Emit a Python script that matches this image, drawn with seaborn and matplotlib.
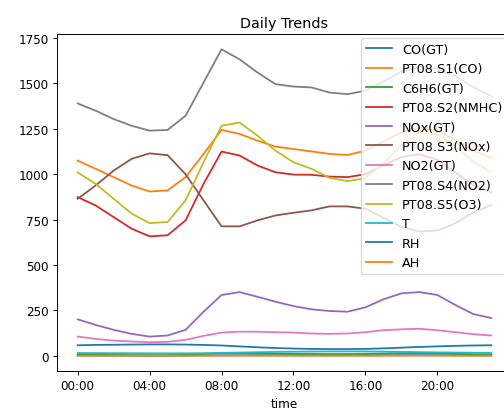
import numpy as np
import pandas as pd
import seaborn as sns
import matplotlib
matplotlib.use("Agg")
import matplotlib.pyplot as plt

#時間（0〜23時）
hours = list(range(24))

#各センサーの時間帯別平均値
co_gt = [1.7, 1.4, 1.1, 0.9, 0.8, 0.8, 1.1, 2.0, 3.0, 3.0, 2.6, 2.4,
         2.3, 2.2, 2.1, 2.1, 2.3, 2.8, 3.3, 3.5, 3.2, 2.6, 2.0, 1.8]
pt08_s1 = [1075, 1030, 984, 938, 905, 911, 984, 1112, 1244, 1222, 1185, 1152,
           1139, 1126, 1112, 1106, 1130, 1180, 1230, 1255, 1240, 1190, 1130, 1090]
c6h6 = [7.6, 5.9, 4.6, 3.6, 3.1, 3.3, 5.3, 10.5, 14.8, 14.3, 12.5, 11.2,
        10.6, 10.3, 9.8, 9.6, 10.4, 12.3, 14.3, 15.0, 13.6, 10.7, 8.6, 7.8]
pt08_s2 = [874, 828, 764, 700, 658, 664, 746, 947, 1125, 1103, 1048, 1011,
           998, 997, 987, 984, 1000, 1050, 1095, 1110, 1080, 1010, 940, 900]
nox = [201, 170, 143, 121, 106, 112, 143, 243, 335, 351, 325, 298,
       274, 256, 247, 243, 267, 311, 344, 351, 335, 280, 230, 208]
pt08_s3 = [865, 938, 1020, 1085, 1115, 1105, 1000, 856, 713, 713, 746, 773,
           788, 801, 823, 823, 810, 760, 710, 685, 690, 730, 790, 830]
no2 = [106, 93, 84, 79, 75, 77, 88, 110, 128, 133, 133, 130,
       128, 123, 121, 123, 130, 141, 146, 149, 141, 130, 119, 112]
pt08_s4 = [1390, 1350, 1304, 1267, 1240, 1244, 1322, 1505, 1688, 1633, 1560, 1496,
           1483, 1478, 1450, 1441, 1460, 1510, 1565, 1590, 1580, 1540, 1480, 1430]
pt08_s5 = [1010, 947, 865, 783, 731, 737, 856, 1066, 1267, 1285, 1212, 1130,
           1066, 1030, 980, 962, 978, 1060, 1160, 1230, 1220, 1150, 1070, 1010]
temp = [15.5, 15.0, 14.6, 14.2, 13.9, 13.7, 13.8, 14.6, 16.2, 18.0, 19.8, 21.3,
        22.6, 23.5, 24.1, 24.3, 24.0, 23.2, 21.8, 20.3, 19.0, 18.0, 17.1, 16.3]
rh = [58, 60, 61, 62, 63, 63, 62, 60, 57, 52, 47, 43,
      40, 38, 37, 37, 38, 41, 45, 49, 52, 55, 57, 58]
ah = [1.00, 0.99, 0.98, 0.97, 0.96, 0.96, 0.96, 0.99, 1.02, 1.04, 1.05, 1.05,
      1.05, 1.04, 1.04, 1.03, 1.03, 1.03, 1.03, 1.03, 1.02, 1.02, 1.01, 1.01]

names = ['CO(GT)', 'PT08.S1(CO)', 'C6H6(GT)', 'PT08.S2(NMHC)', 'NOx(GT)',
         'PT08.S3(NOx)', 'NO2(GT)', 'PT08.S4(NO2)', 'PT08.S5(O3)', 'T', 'RH', 'AH']
series = [co_gt, pt08_s1, c6h6, pt08_s2, nox, pt08_s3, no2, pt08_s4, pt08_s5, temp, rh, ah]

#ロング形式に変換
df = pd.DataFrame({n: s for n, s in zip(names, series)})
df['time'] = hours
long_df = df.melt(id_vars='time', var_name='sensor', value_name='value')

#tab10を繰り返して12色にする
pal = sns.color_palette('tab10', 10) + sns.color_palette('tab10', 2)

#グラフ化
fig = plt.figure(figsize=(504 / 86, 410 / 86), dpi=86)
ax = fig.add_axes([57 / 504, 1 - 372 / 410, 455 / 504, 337 / 410])
sns.lineplot(data=long_df, x='time', y='value', hue='sensor', palette=pal, ax=ax)
ax.set_xticks(range(0, 24, 4))
ax.set_xticklabels(['{:02d}:00'.format(h) for h in range(0, 24, 4)])
ax.set_yticks(range(0, 1751, 250))
ax.set_ylabel('')
ax.set_xlabel('time')
ax.set_title('Daily Trends')
sns.move_legend(ax, 'upper right', title=None, fontsize=10.7, borderaxespad=0.3)

fig.savefig('out.png', dpi=86)
